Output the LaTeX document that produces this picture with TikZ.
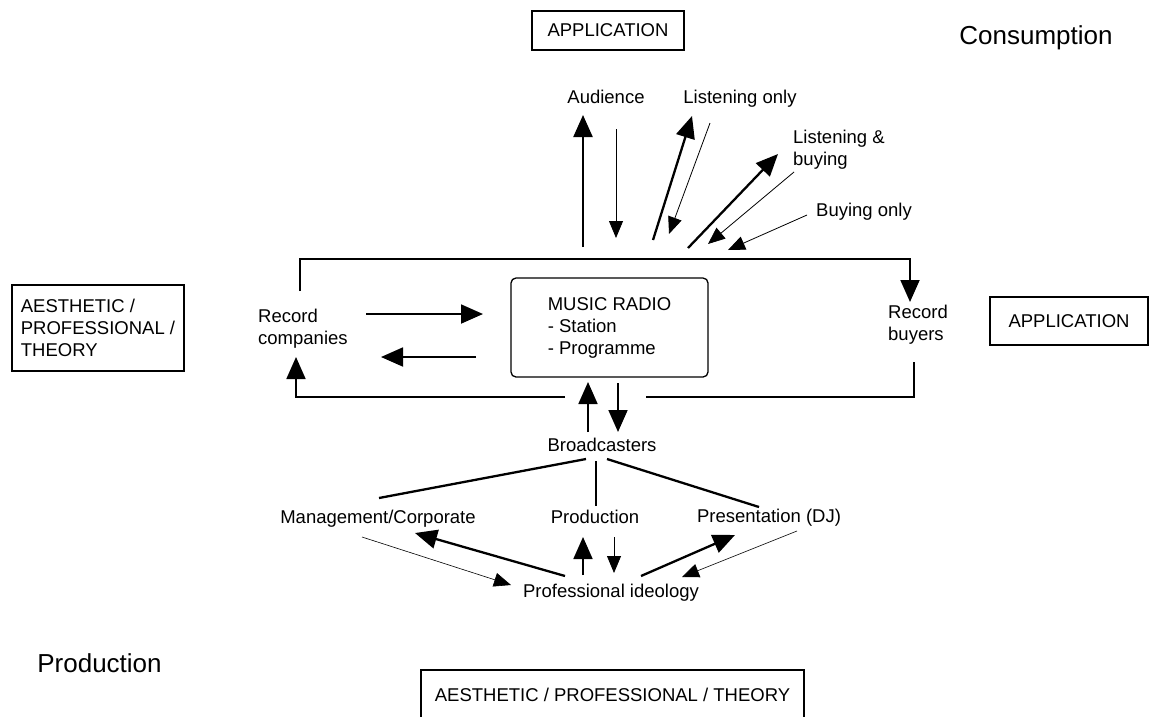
\documentclass[tikz,border=0pt]{standalone}
\usepackage{fontspec}
\setmainfont{Liberation Sans}
\usetikzlibrary{arrows.meta}
\tikzset{
  lbl/.style={inner sep=0pt, font=\fontsize{18.5}{22}\selectfont},
  biglbl/.style={inner sep=0pt, font=\fontsize{26}{30}\selectfont},
  boxed/.style={draw, line width=1.3pt, inner sep=0pt, font=\fontsize{18.5}{22}\selectfont},
  thickarr/.style={line width=2.3pt, -{Triangle[length=22pt,width=19pt]}},
  thinarr/.style={line width=0.8pt, -{Triangle[length=17pt,width=14pt]}},
  hairarr/.style={line width=0.6pt, -{Triangle[length=17pt,width=14pt]}},
  framearr/.style={line width=1.8pt, -{Triangle[length=22pt,width=19pt]}},
  frameline/.style={line width=1.8pt},
  linkline/.style={line width=2.3pt},
}
\begin{document}
\begin{tikzpicture}[x=1pt,y=-1pt]
\clip (0,0) rectangle (1161,716);
\useasboundingbox (0,0) rectangle (1161,716);

% boxes and labels
\node[boxed, minimum width=152pt, minimum height=39pt] (appTop) at (608,30.5) {APPLICATION};
\node[biglbl] (cons) at (1036,38) {Consumption};
\node[lbl] (aud) at (606,97) {Audience};
\node[lbl] (lo) at (740,99) {Listening only};
\node[lbl, align=left, anchor=west] (lb) at (793,150) {Listening \&\\buying};
\node[lbl] (bo) at (864,212) {Buying only};
\node[lbl, align=left, anchor=west] (rc) at (258,329) {Record\\companies};
\node[boxed, rounded corners=5pt, minimum width=197pt, minimum height=99pt, align=left] (radio) at (609.5,327.5) {MUSIC RADIO\\- Station\\- Programme};
\node[lbl, align=left] (rb) at (918,325) {Record\\buyers};
\node[boxed, minimum width=158pt, minimum height=48pt] (appR) at (1069,321) {APPLICATION};
\node[boxed, minimum width=172pt, minimum height=86pt, align=left] (aesL) at (98,328) {AESTHETIC /\\PROFESSIONAL /\\THEORY};
\node[lbl] (bc) at (602,445) {Broadcasters};
\node[lbl] (mg) at (378,519) {Management/Corporate};
\node[lbl] (pr) at (595,517) {Production};
\node[lbl] (pres) at (769,518) {Presentation (DJ)};
\node[lbl] (pi) at (611,593) {Professional ideology};
\node[biglbl] (prodBig) at (99.5,663) {Production};
\node[boxed, minimum width=383pt, minimum height=50pt] (aesB) at (612.5,695) {AESTHETIC / PROFESSIONAL / THEORY};

% coordinates for floating connector ends
\coordinate (audUpS) at (583,247); \coordinate (audUpE) at (583,115);
\coordinate (audDnS) at (616,129); \coordinate (audDnE) at (616,238);
\coordinate (loUpS) at (653,240);  \coordinate (loUpE) at (692,116);
\coordinate (loDnS) at (710,123);  \coordinate (loDnE) at (669,234);
\coordinate (lbUpS) at (688,248);  \coordinate (lbUpE) at (778,154);
\coordinate (lbDnS) at (794,172);  \coordinate (lbDnE) at (708,244);
\coordinate (boDnS) at (807,215);  \coordinate (boDnE) at (728,250);

\coordinate (rcTop) at (300,291); \coordinate (fTL) at (300,259);
\coordinate (fTR) at (910,259);   \coordinate (rbTop) at (910,302);
\coordinate (rbBot) at (914,362); \coordinate (fBR) at (914,397);
\coordinate (fBgapR) at (646,397); \coordinate (fBgapL) at (565,397);
\coordinate (fBL) at (296,397);   \coordinate (rcBot) at (296,357);

\coordinate (rcToRadioS) at (366,314); \coordinate (rcToRadioE) at (483,314);
\coordinate (radioToRcS) at (476,357); \coordinate (radioToRcE) at (381,357);

\coordinate (bcUpS) at (588,432); \coordinate (bcUpE) at (588,382);
\coordinate (bcDnS) at (618,383); \coordinate (bcDnE) at (618,432);

\coordinate (bcL) at (586,459); \coordinate (mgT) at (379,498);
\coordinate (bcM) at (596,461); \coordinate (prT) at (596,506);
\coordinate (bcR) at (607,459); \coordinate (presT) at (759,507);

\coordinate (mgDnS) at (362,537); \coordinate (mgDnE) at (511,585);
\coordinate (mgUpS) at (565,576); \coordinate (mgUpE) at (415,533);
\coordinate (prUpS) at (583,575); \coordinate (prUpE) at (583,537);
\coordinate (prDnS) at (614,537); \coordinate (prDnE) at (614,573);
\coordinate (presUpS) at (641,576); \coordinate (presUpE) at (735,535);
\coordinate (presDnS) at (797,531); \coordinate (presDnE) at (682,577);

% top arrows
\draw[thickarr] (audUpS) -- (audUpE);
\draw[thinarr] (audDnS) -- (audDnE);
\draw[thickarr] (loUpS) -- (loUpE);
\draw[thinarr] (loDnS) -- (loDnE);
\draw[thickarr] (lbUpS) -- (lbUpE);
\draw[thinarr] (lbDnS) -- (lbDnE);
\draw[thinarr] (boDnS) -- (boDnE);

% frame
\draw[framearr] (rcTop) -- (fTL) -- (fTR) -- (rbTop);
\draw[frameline] (rbBot) -- (fBR) -- (fBgapR);
\draw[framearr] (fBgapL) -- (fBL) -- (rcBot);

% record companies <-> radio
\draw[framearr] (rcToRadioS) -- (rcToRadioE);
\draw[framearr] (radioToRcS) -- (radioToRcE);

% radio <-> broadcasters
\draw[framearr] (bcUpS) -- (bcUpE);
\draw[framearr] (bcDnS) -- (bcDnE);

% broadcasters links
\draw[linkline] (bcL) -- (mgT);
\draw[line width=1.6pt] (bcM) -- (prT);
\draw[linkline] (bcR) -- (presT);

% bottom arrows
\draw[hairarr] (mgDnS) -- (mgDnE);
\draw[thickarr] (mgUpS) -- (mgUpE);
\draw[framearr] (prUpS) -- (prUpE);
\draw[thinarr] (prDnS) -- (prDnE);
\draw[thickarr] (presUpS) -- (presUpE);
\draw[hairarr] (presDnS) -- (presDnE);
\end{tikzpicture}
\end{document}
